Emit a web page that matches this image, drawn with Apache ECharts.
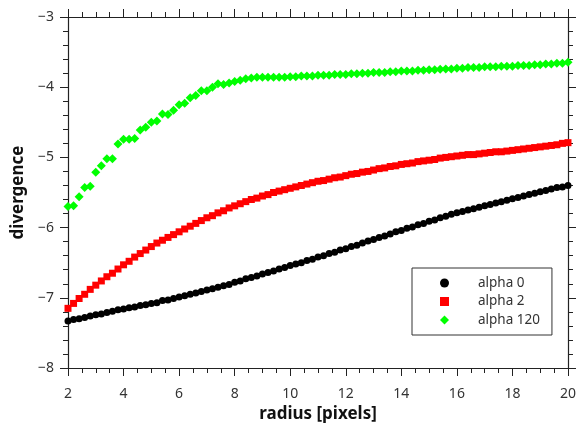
<!DOCTYPE html>
<html>
<head>
<meta charset="utf-8">
<script src="https://cdn.jsdelivr.net/npm/echarts@6/dist/echarts.min.js"></script>
<style>
  html, body { margin: 0; padding: 0; background: #fff; }
  #chart { width: 579px; height: 430px; }
</style>
</head>
<body>
<div id="chart"></div>
<script>
// Sample radii in pixels
const radius = [
  2.0, 2.2, 2.4, 2.6, 2.8, 3.0, 3.2, 3.4, 3.6, 3.8,
  4.0, 4.2, 4.4, 4.6, 4.8, 5.0, 5.2, 5.4, 5.6, 5.8,
  6.0, 6.2, 6.4, 6.6, 6.8, 7.0, 7.2, 7.4, 7.6, 7.8,
  8.0, 8.2, 8.4, 8.6, 8.8, 9.0, 9.2, 9.4, 9.6, 9.8,
  10.0, 10.2, 10.4, 10.6, 10.8, 11.0, 11.2, 11.4, 11.6, 11.8,
  12.0, 12.2, 12.4, 12.6, 12.8, 13.0, 13.2, 13.4, 13.6, 13.8,
  14.0, 14.2, 14.4, 14.6, 14.8, 15.0, 15.2, 15.4, 15.6, 15.8,
  16.0, 16.2, 16.4, 16.6, 16.8, 17.0, 17.2, 17.4, 17.6, 17.8,
  18.0, 18.2, 18.4, 18.6, 18.8, 19.0, 19.2, 19.4, 19.6, 19.8,
  20.0
];

// Divergence for alpha = 0
const alpha0 = [
  -7.33, -7.31, -7.30, -7.28, -7.26, -7.24, -7.23, -7.21, -7.19, -7.17,
  -7.16, -7.14, -7.13, -7.11, -7.10, -7.08, -7.07, -7.04, -7.03, -7.01,
  -6.99, -6.97, -6.95, -6.93, -6.91, -6.89, -6.87, -6.85, -6.83, -6.81,
  -6.78, -6.76, -6.73, -6.71, -6.69, -6.66, -6.64, -6.62, -6.59, -6.57,
  -6.54, -6.52, -6.50, -6.47, -6.45, -6.42, -6.40, -6.37, -6.35, -6.32,
  -6.30, -6.27, -6.25, -6.22, -6.19, -6.17, -6.14, -6.12, -6.09, -6.06,
  -6.04, -6.01, -5.99, -5.96, -5.94, -5.91, -5.89, -5.86, -5.84, -5.81,
  -5.79, -5.77, -5.75, -5.73, -5.71, -5.69, -5.67, -5.65, -5.63, -5.61,
  -5.59, -5.57, -5.55, -5.53, -5.51, -5.49, -5.47, -5.45, -5.43, -5.42,
  -5.40
];

// Divergence for alpha = 2
const alpha2 = [
  -7.15, -7.08, -7.01, -6.95, -6.88, -6.82, -6.76, -6.70, -6.65, -6.59,
  -6.53, -6.48, -6.42, -6.37, -6.32, -6.27, -6.22, -6.18, -6.14, -6.10,
  -6.06, -6.02, -5.98, -5.94, -5.90, -5.86, -5.83, -5.79, -5.76, -5.72,
  -5.69, -5.66, -5.63, -5.60, -5.58, -5.55, -5.53, -5.50, -5.48, -5.46,
  -5.44, -5.42, -5.40, -5.38, -5.36, -5.34, -5.33, -5.31, -5.29, -5.28,
  -5.26, -5.24, -5.23, -5.21, -5.20, -5.18, -5.16, -5.15, -5.13, -5.12,
  -5.10, -5.09, -5.08, -5.06, -5.05, -5.04, -5.03, -5.01, -5.00, -4.99,
  -4.98, -4.97, -4.96, -4.96, -4.95, -4.94, -4.93, -4.92, -4.92, -4.91,
  -4.90, -4.89, -4.88, -4.87, -4.86, -4.85, -4.84, -4.83, -4.82, -4.80,
  -4.79
];

// Divergence for alpha = 120
const alpha120 = [
  -5.70, -5.69, -5.56, -5.43, -5.41, -5.21, -5.12, -5.02, -5.02, -4.81,
  -4.74, -4.74, -4.73, -4.61, -4.57, -4.50, -4.48, -4.38, -4.39, -4.33,
  -4.25, -4.23, -4.15, -4.12, -4.05, -4.05, -4.00, -3.95, -3.96, -3.94,
  -3.92, -3.90, -3.88, -3.87, -3.86, -3.86, -3.86, -3.86, -3.86, -3.86,
  -3.85, -3.85, -3.84, -3.84, -3.84, -3.83, -3.83, -3.83, -3.82, -3.82,
  -3.82, -3.81, -3.81, -3.80, -3.80, -3.79, -3.79, -3.79, -3.78, -3.78,
  -3.77, -3.77, -3.77, -3.76, -3.76, -3.75, -3.75, -3.745, -3.74, -3.74,
  -3.73, -3.73, -3.72, -3.72, -3.72, -3.71, -3.71, -3.71, -3.70, -3.70,
  -3.70, -3.69, -3.69, -3.69, -3.68, -3.68, -3.67, -3.67, -3.66, -3.66,
  -3.645
];

const seriesNames = ['alpha 0', 'alpha 2', 'alpha 120'];

const FONT = 'Noto Sans';
const AXIS_COLOR = '#222';
const LABEL_COLOR = '#333';

function pairs(ys) {
  return radius.map((r, i) => [r, ys[i]]);
}

function minus(v) {
  return String(v).replace('-', '\u2212');
}

const baseAxisLine = { show: true, onZero: false, lineStyle: { color: AXIS_COLOR, width: 1.2 } };

const xCommon = {
  type: 'value', min: 2, max: 20, interval: 2,
  axisLine: baseAxisLine,
  axisTick: { show: true, inside: false, length: 8, lineStyle: { color: AXIS_COLOR } },
  minorTick: { show: true, splitNumber: 4, length: 5, lineStyle: { color: AXIS_COLOR } },
  splitLine: { show: false }
};
const yCommon = {
  type: 'value', min: -8, max: -3, interval: 1,
  axisLine: baseAxisLine,
  axisTick: { show: true, inside: false, length: 8, lineStyle: { color: AXIS_COLOR } },
  minorTick: { show: true, splitNumber: 5, length: 5, lineStyle: { color: AXIS_COLOR } },
  splitLine: { show: false }
};

const chart = echarts.init(document.getElementById('chart'), null, { renderer: 'canvas' });

chart.setOption({
  backgroundColor: '#fff',
  animation: false,
  grid: { left: 68, right: 9, top: 17, bottom: 62, containLabel: false },
  xAxis: [
    Object.assign({}, xCommon, {
      position: 'bottom',
      name: 'radius [pixels]', nameLocation: 'middle', nameGap: 36,
      nameTextStyle: { fontFamily: FONT, fontSize: 17, fontWeight: 'bold', color: '#111' },
      axisLabel: { margin: 19, fontFamily: FONT, fontSize: 14, color: LABEL_COLOR }
    }),
    Object.assign({}, xCommon, { position: 'top', axisLabel: { show: false } })
  ],
  yAxis: [
    Object.assign({}, yCommon, {
      position: 'left',
      name: 'divergence', nameLocation: 'middle', nameGap: 39, nameRotate: 90,
      nameTextStyle: { fontFamily: FONT, fontSize: 17, fontWeight: 'bold', color: '#111' },
      axisLabel: { margin: 14, fontFamily: FONT, fontSize: 14, color: LABEL_COLOR, formatter: minus }
    }),
    Object.assign({}, yCommon, { position: 'right', axisLabel: { show: false } })
  ],
  legend: {
    orient: 'vertical',
    left: 412, top: 268,
    padding: [8, 12, 8, 28],
    itemGap: 4.5,
    itemWidth: 9, itemHeight: 9,
    borderColor: '#333', borderWidth: 1,
    backgroundColor: '#fff',
    formatter: '{t|{name}}',
    textStyle: {
      fontFamily: FONT, fontSize: 13.5, color: LABEL_COLOR, lineHeight: 14,
      rich: { t: { padding: [0, 0, 0, 24], fontFamily: FONT, fontSize: 13.5, color: LABEL_COLOR, lineHeight: 14 } }
    },
    data: seriesNames
  },
  series: [
    {
      name: seriesNames[0], type: 'scatter', symbol: 'circle', symbolSize: 7,
      itemStyle: { color: '#000', opacity: 1 }, data: pairs(alpha0)
    },
    {
      name: seriesNames[1], type: 'scatter', symbol: 'rect', symbolSize: 7,
      itemStyle: { color: '#ff0000', opacity: 1 }, data: pairs(alpha2)
    },
    {
      name: seriesNames[2], type: 'scatter', symbol: 'diamond', symbolSize: 9,
      itemStyle: { color: '#00ff00', opacity: 1 }, data: pairs(alpha120)
    }
  ]
});
</script>
</body>
</html>
